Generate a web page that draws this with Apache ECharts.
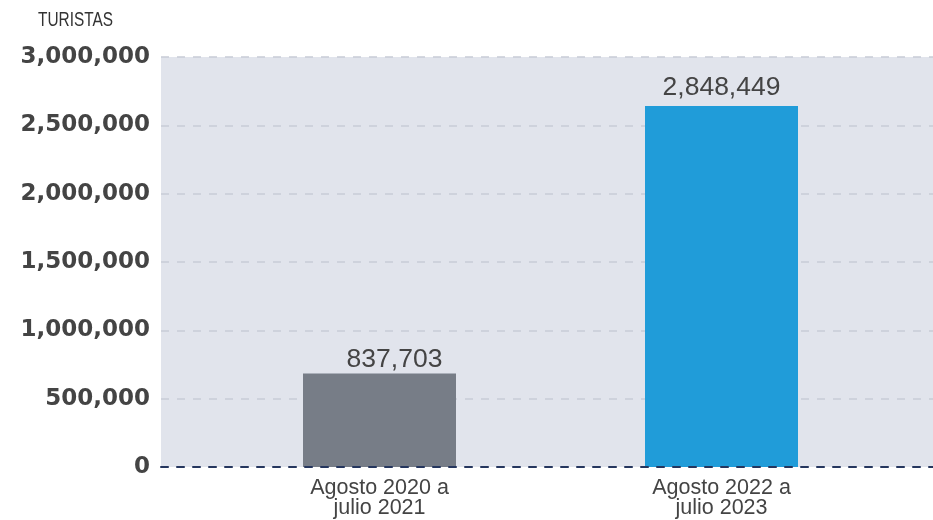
<!DOCTYPE html>
<html>
<head>
<meta charset="utf-8">
<script src="https://cdn.jsdelivr.net/npm/echarts@6/dist/echarts.min.js"></script>
<style>
  html, body { margin: 0; padding: 0; background: #fff; }
  #chart { width: 933px; height: 520px; }
</style>
</head>
<body>
<div id="chart"></div>
<script>
// data
var categories = ['Agosto 2020 a\njulio 2021', 'Agosto 2022 a\njulio 2023'];
var barValues = [684000, 2641000];          // bar heights as drawn
var barLabels = ['837,703', '2,848,449'];   // printed labels
var barColors = ['#777d87', '#209cd9'];
var yTicks = [0, 500000, 1000000, 1500000, 2000000, 2500000, 3000000];

var chart = echarts.init(document.getElementById('chart'));

var labelOffsets = [[15, 0], [0, 0]];
var labelDist = [0, 5];

chart.setOption({
  animation: false,
  // condensed unit title
  graphic: [{
    type: 'text',
    x: 38,
    y: 10,
    scaleX: 0.77,
    style: {
      text: 'TURISTAS',
      font: '20px "Liberation Sans", Arial, sans-serif',
      fill: '#333'
    }
  }],
  grid: [
    { left: 161, right: 0, top: 57, bottom: 53, show: true, backgroundColor: '#e1e4ec', borderWidth: 0 },
    { left: 208.5, right: 40.5, top: 57, bottom: 53 }
  ],
  xAxis: [
    {
      gridIndex: 0, type: 'category', data: ['', ''],
      axisTick: { show: false }, axisLabel: { show: false },
      axisLine: { show: true, lineStyle: { color: '#25365e', width: 2, type: [7, 9] } },
      z: 5
    },
    {
      gridIndex: 1, type: 'category', data: categories,
      axisTick: { show: false }, axisLine: { show: false },
      axisLabel: {
        margin: 11,
        fontFamily: '"Liberation Sans", Arial, sans-serif',
        fontSize: 21.5,
        lineHeight: 20,
        color: '#444'
      }
    }
  ],
  yAxis: [
    {
      gridIndex: 0, type: 'value', min: yTicks[0], max: yTicks[yTicks.length - 1], interval: 500000,
      axisLine: { show: false }, axisTick: { show: false },
      splitLine: { show: true, lineStyle: { color: '#c7ccd6', width: 1.5, type: [8, 8] } },
      axisLabel: {
        margin: 11,
        fontFamily: '"DejaVu Sans", sans-serif',
        fontWeight: 'bold',
        fontSize: 23,
        color: '#444',
        formatter: function (v) { return v.toLocaleString('en-US'); }
      }
    },
    {
      gridIndex: 1, type: 'value', min: yTicks[0], max: yTicks[yTicks.length - 1], interval: 500000,
      show: false, splitLine: { show: false }
    }
  ],
  series: [
    {
      type: 'bar',
      xAxisIndex: 1,
      yAxisIndex: 1,
      barWidth: 153,
      data: barValues.map(function (v, i) {
        return {
          value: v,
          itemStyle: { color: barColors[i] },
          label: {
            show: true,
            position: 'top',
            distance: labelDist[i],
            offset: labelOffsets[i],
            formatter: barLabels[i],
            fontFamily: '"Liberation Sans", Arial, sans-serif',
            fontSize: 26.5,
            color: '#444'
          }
        };
      }),
      z: 3
    }
  ]
});
</script>
</body>
</html>
